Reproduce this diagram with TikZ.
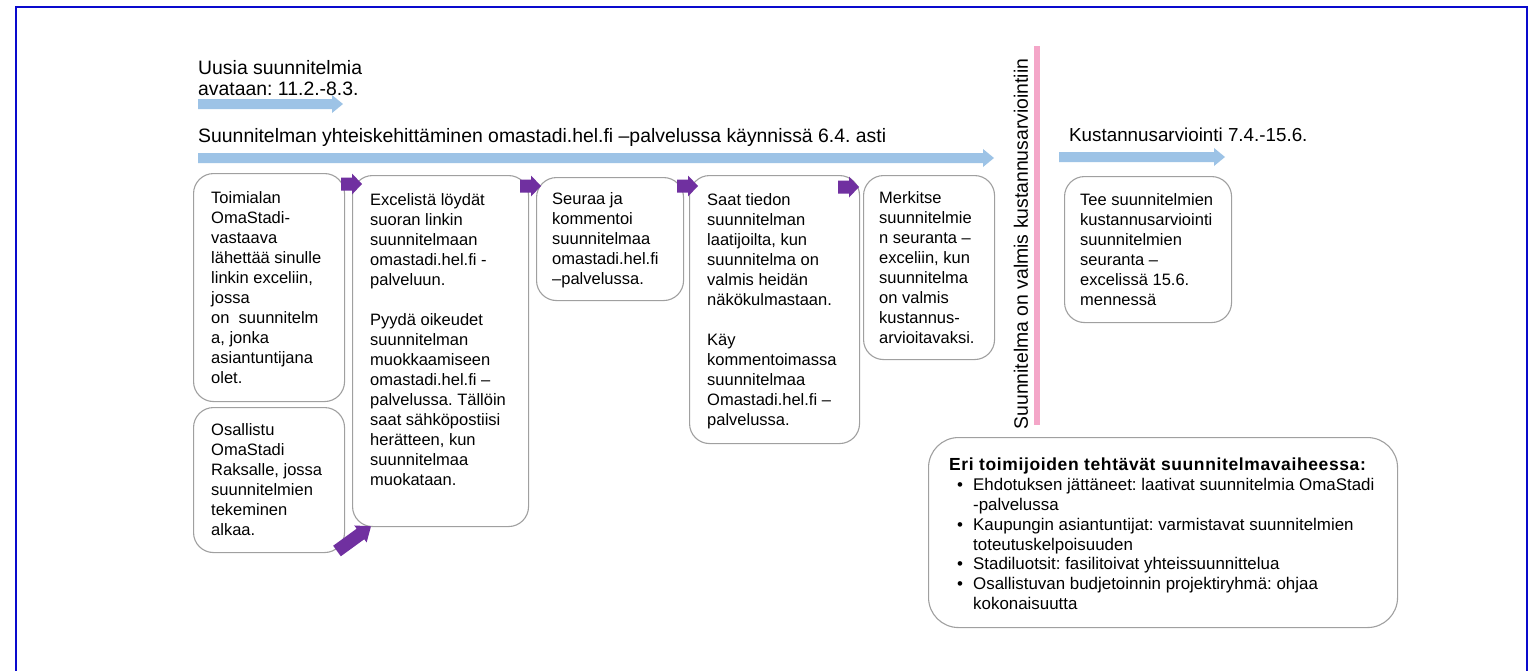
\documentclass[tikz,border=0pt]{standalone}
\usepackage{fontspec}
\setmainfont{Liberation Sans}
\definecolor{ltblue}{HTML}{9DC3E6}
\definecolor{purp}{HTML}{7030A0}
\definecolor{framecol}{HTML}{0A0ACD}
\definecolor{pinkl}{HTML}{F4A6C8}
\definecolor{boxgray}{HTML}{A0A0A0}
\tikzset{
  pics/blockarrow/.style n args={4}{code={%
    \fill (0,-#2) -- (#1-#4,-#2) -- (#1-#4,-#3) -- (#1,0) -- (#1-#4,#3) -- (#1-#4,#2) -- (0,#2) -- cycle;}},
  roundbox/.style={draw=boxgray, line width=1.1pt, rounded corners=20pt, anchor=north west, inner sep=0pt},
  boxtext/.style={anchor=north west, inner sep=0pt, align=left, font=\fontsize{16.5}{20}\selectfont},
  header/.style={anchor=north west, inner sep=0pt, align=left, font=\fontsize{19.4}{21}\selectfont},
}
\begin{document}
\frenchspacing
\begin{tikzpicture}[x=1pt,y=-1pt]
\useasboundingbox (0,0) rectangle (1535,670);
\fill[white] (0,0) rectangle (1535,670);
% frame
\draw[framecol, line width=2.5pt] (16,680) -- (16,7) -- (1527,7) -- (1527,680);

% headers
\node[header] (h1) at (198,60) {Uusia suunnitelmia\\avataan: 11.2.-8.3.};
\node[header] (h2) at (198,128) {Suunnitelman yhteiskehittäminen omastadi.hel.fi –palvelussa käynnissä 6.4. asti};
\node[header, font=\fontsize{18.8}{21}\selectfont] (h3) at (1069,128) {Kustannusarviointi 7.4.-15.6.};

% timeline arrows
\pic[ltblue] at (198,104) {blockarrow={145}{5}{9}{11}};
\pic[ltblue] at (198,158) {blockarrow={796}{5}{9}{11}};
\pic[ltblue] at (1059,157) {blockarrow={166}{5}{9}{11}};

% milestone
\draw[pinkl, line width=6pt] (1037,46) -- (1037,425);
\node[rotate=90, inner sep=0pt, font=\fontsize{19.4}{22}\selectfont] (vt) at (1021,244) {Suunnitelma on valmis kustannusarviointiin};

% boxes
\node[roundbox, minimum width=151pt, minimum height=228pt] (b1) at (193,173) {};
\node[roundbox, minimum width=151pt, minimum height=145pt] (b2) at (193,407) {};
\node[roundbox, minimum width=176pt, minimum height=351pt] (b3) at (352,175) {};
\node[roundbox, minimum width=147pt, minimum height=123pt] (b4) at (536,177) {};
\node[roundbox, minimum width=170pt, minimum height=268pt] (b5) at (689,175) {};
\node[roundbox, minimum width=131pt, minimum height=184pt] (b6) at (863,175) {};
\node[roundbox, minimum width=167pt, minimum height=146pt] (b7) at (1064,176) {};
\node[roundbox, rounded corners=30pt, minimum width=469pt, minimum height=190pt] (b8) at (928,437) {};

% box texts
\node[boxtext] (t1) at (211,191) {Toimialan\\OmaStadi-\\vastaava\\lähettää sinulle\\linkin exceliin,\\jossa\\on\ \ suunnitelm\\a, jonka\\asiantuntijana\\olet.};
\node[boxtext] (t2) at (211,423) {Osallistu\\OmaStadi\\Raksalle, jossa\\suunnitelmien\\tekeminen\\alkaa.};
\node[boxtext] (t3) at (370,193) {Excelistä löydät\\suoran linkin\\suunnitelmaan\\omastadi.hel.fi -\\palveluun.\\[20pt]Pyydä oikeudet\\suunnitelman\\muokkaamiseen\\omastadi.hel.fi –\\palvelussa. Tällöin\\saat sähköpostiisi\\herätteen, kun\\suunnitelmaa\\muokataan.};
\node[boxtext] (t4) at (552,192) {Seuraa ja\\kommentoi\\suunnitelmaa\\omastadi.hel.fi\\–palvelussa.};
\node[boxtext] (t5) at (707,193) {Saat tiedon\\suunnitelman\\laatijoilta, kun\\suunnitelma on\\valmis heidän\\näkökulmastaan.\\[20pt]Käy\\kommentoimassa\\suunnitelmaa\\Omastadi.hel.fi –\\palvelussa.};
\node[boxtext] (t6) at (879,191) {Merkitse\\suunnitelmie\\n seuranta –\\exceliin, kun\\suunnitelma\\on valmis\\kustannus-\\arvioitavaksi.};
\node[boxtext] (t7) at (1080,193) {Tee suunnitelmien\\kustannusarviointi\\suunnitelmien\\seuranta –\\excelissä 15.6.\\mennessä};
\node[boxtext, font=\fontsize{16.9}{19.8}\selectfont] (t8) at (949,458) {{\fontsize{17.5}{19.8}\selectfont\bfseries\addfontfeatures{LetterSpace=3.5}Eri toimijoiden tehtävät suunnitelmavaiheessa:}\\
\hspace*{8pt}\makebox[16pt][l]{•}Ehdotuksen jättäneet: laativat suunnitelmia OmaStadi\\
\hspace*{24pt}-palvelussa\\
\hspace*{8pt}\makebox[16pt][l]{•}Kaupungin asiantuntijat: varmistavat suunnitelmien\\
\hspace*{24pt}toteutuskelpoisuuden\\
\hspace*{8pt}\makebox[16pt][l]{•}Stadiluotsit: fasilitoivat yhteissuunnittelua\\
\hspace*{8pt}\makebox[16pt][l]{•}Osallistuvan budjetoinnin projektiryhmä: ohjaa\\
\hspace*{24pt}kokonaisuutta};

% purple step arrows
\pic[purp] at (341,184) {blockarrow={21}{6.5}{10.5}{10}};
\pic[purp] at (520,186) {blockarrow={21}{6.5}{10.5}{10}};
\pic[purp] at (677,186) {blockarrow={21}{6.5}{10.5}{10}};
\pic[purp] at (838,187) {blockarrow={21}{6.5}{10.5}{10}};
\pic[purp, rotate=36] at (337,551) {blockarrow={42}{6.5}{10.5}{13}};
\end{tikzpicture}
\end{document}
